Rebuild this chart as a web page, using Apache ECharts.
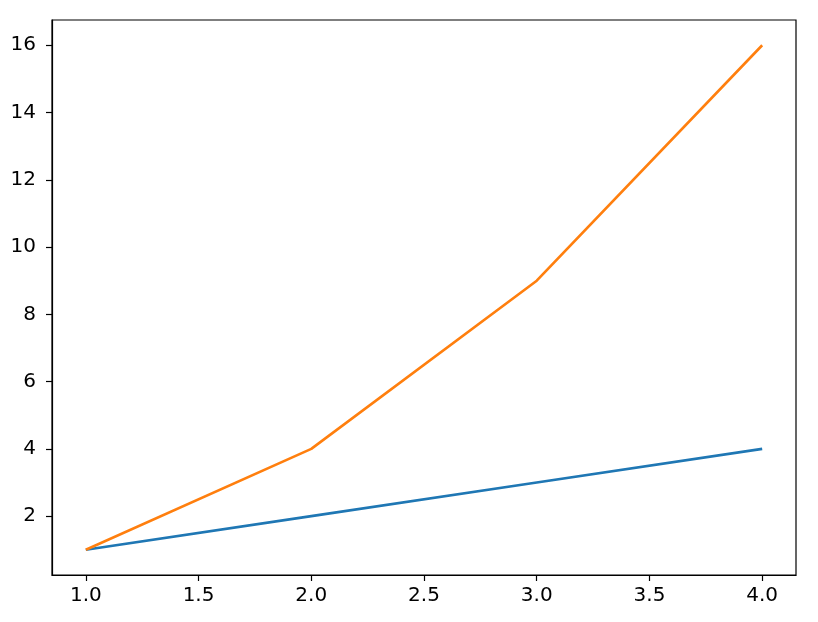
<!DOCTYPE html>
<html>
<head>
<meta charset="utf-8">
<script src="https://cdn.jsdelivr.net/npm/echarts@6/dist/echarts.min.js"></script>
<style>
html,body{margin:0;padding:0;background:#fff;}
#c{width:818px;height:622px;}
</style>
</head>
<body>
<div id="c"></div>
<script>
const xValues = [1, 2, 3, 4];
const seriesA = [1, 2, 3, 4];
const seriesB = [1, 4, 9, 16];
const xTicks = [1.0, 1.5, 2.0, 2.5, 3.0, 3.5, 4.0];
const yTicks = [2, 4, 6, 8, 10, 12, 14, 16];

const chart = echarts.init(document.getElementById('c'), null, {renderer: 'canvas'});
const font = {fontFamily: 'DejaVu Sans', fontSize: 20, color: '#000'};
chart.setOption({
  animation: false,
  backgroundColor: '#fff',
  grid: {left: 52, right: 22, top: 20, bottom: 47, show: true, borderColor: '#000', borderWidth: 1.2, containLabel: false, outerBoundsMode: 'none'},
  xAxis: {
    type: 'value', min: 0.85, max: 4.15,
    splitLine: {show: false},
    axisLine: {show: true, onZero: false, lineStyle: {color: '#000', width: 1.2}},
    axisTick: {show: true, length: 6, lineStyle: {color: '#000', width: 1.2}, customValues: xTicks},
    axisLabel: Object.assign({margin: 11, customValues: xTicks, formatter: v => v.toFixed(1)}, font)
  },
  yAxis: {
    type: 'value', min: 0.25, max: 16.75,
    splitLine: {show: false},
    axisLine: {show: true, onZero: false, lineStyle: {color: '#000', width: 1.2}},
    axisTick: {show: true, length: 6, lineStyle: {color: '#000', width: 1.2}, customValues: yTicks},
    axisLabel: Object.assign({margin: 16, customValues: yTicks, formatter: v => String(v)}, font)
  },
  series: [
    {type: 'line', data: xValues.map((x, i) => [x, seriesA[i]]), symbol: 'none', lineStyle: {color: '#1f77b4', width: 2.6}, itemStyle: {color: '#1f77b4'}},
    {type: 'line', data: xValues.map((x, i) => [x, seriesB[i]]), symbol: 'none', lineStyle: {color: '#ff7f0e', width: 2.6}, itemStyle: {color: '#ff7f0e'}}
  ]
});
</script>
</body>
</html>
